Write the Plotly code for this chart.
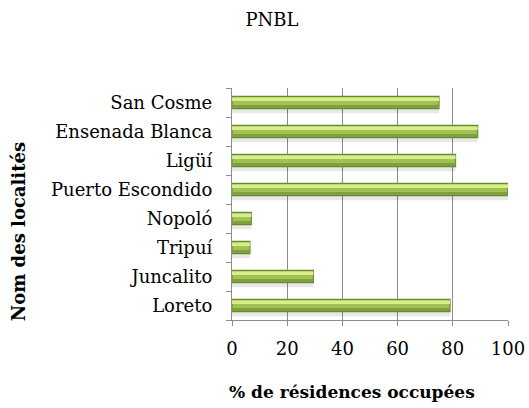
import plotly.graph_objects as go

categories = ["Loreto", "Juncalito", "Tripuí", "Nopoló", "Puerto Escondido",
              "Ligüí", "Ensenada Blanca", "San Cosme"]
values = [79, 29.5, 6.5, 7, 100, 81, 89, 75]
x_ticks = [0, 20, 40, 60, 80, 100]

FONT = "DejaVu Serif"
W = 0.42

fig = go.Figure()
# soft shadow
fig.add_trace(go.Bar(y=categories, x=values, orientation="h", width=W,
                     offset=-W / 2 - 0.16,
                     marker=dict(color="rgba(0,0,0,0.09)", line=dict(width=0)),
                     hoverinfo="skip", showlegend=False))
# main bar
fig.add_trace(go.Bar(y=categories, x=values, orientation="h", width=W,
                     offset=-W / 2,
                     marker=dict(color="#a2c155", line=dict(color="#6a8a2e", width=1.2)),
                     showlegend=False))
# darker lower band
fig.add_trace(go.Bar(y=categories, x=values, orientation="h", width=0.1,
                     offset=-W / 2 + 0.02,
                     marker=dict(color="#80a03c", line=dict(width=0)),
                     hoverinfo="skip", showlegend=False))
# top highlight
fig.add_trace(go.Bar(y=categories, x=values, orientation="h", width=0.12,
                     offset=0.05,
                     marker=dict(color="#d6ee8c", line=dict(width=0)),
                     hoverinfo="skip", showlegend=False))

fig.update_layout(
    width=529, height=408,
    margin=dict(l=232, r=21, t=88, b=88),
    barmode="overlay",
    paper_bgcolor="white", plot_bgcolor="white",
    font=dict(family=FONT, size=18, color="black"),
    title=dict(text="PNBL", x=272 / 529, xanchor="center", y=1 - 20 / 408,
               yanchor="middle", font=dict(family=FONT, size=18)),
    xaxis=dict(range=[0, 100], tickvals=x_ticks, showgrid=True,
               gridcolor="#8c8c8c", gridwidth=1.3, showline=True,
               linecolor="#8c8c8c", linewidth=1.3, ticks="outside",
               ticklen=5, tickcolor="#8c8c8c", zeroline=False,
               automargin=False,
               ticklabelstandoff=7, tickfont=dict(size=18)),
    yaxis=dict(type="category", categoryorder="array", categoryarray=categories,
               showline=True, linecolor="#8c8c8c", linewidth=1.3,
               ticks="outside", ticklen=5, tickcolor="#8c8c8c",
               tickson="boundaries", showgrid=False, automargin=False,
               ticklabelstandoff=15, tickfont=dict(size=18)),
    annotations=[
        dict(text="<b>% de résidences occupées</b>", xref="paper", yref="paper",
             x=0.435, y=-0.310, xanchor="center", yanchor="middle",
             showarrow=False, font=dict(family=FONT, size=17)),
        dict(text="<b>Nom des localités</b>", xref="paper", yref="paper",
             x=-0.775, y=0.379, xanchor="center", yanchor="middle",
             textangle=-90, showarrow=False, font=dict(family=FONT, size=18)),
    ],
)

fig.write_html(
    "out.html",
    config={"displayModeBar": False},
    post_script="document.body.style.margin='0';document.body.style.overflow='hidden';",
)
